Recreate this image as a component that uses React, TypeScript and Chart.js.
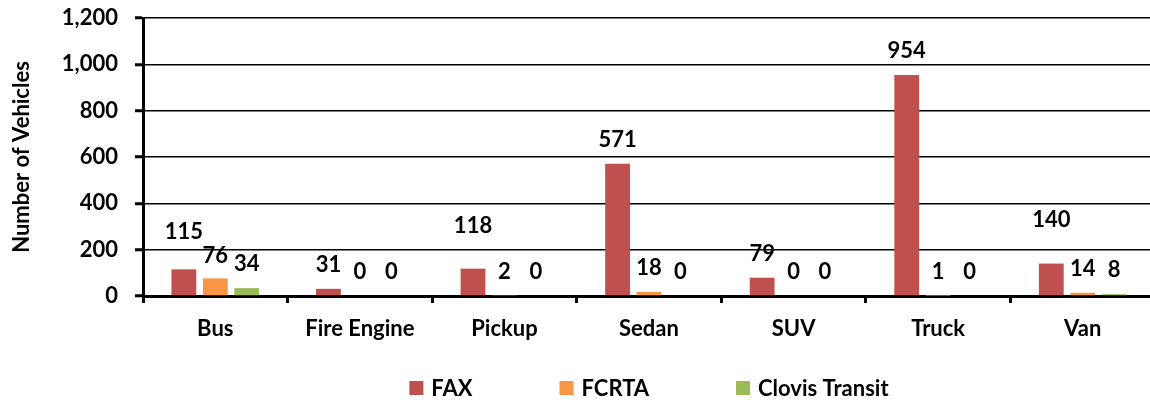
import React, { useEffect, useRef } from "react";
import { Chart, registerables } from "chart.js";

Chart.register(...registerables);

const categories = ["Bus", "Fire Engine", "Pickup", "Sedan", "SUV", "Truck", "Van"];
const faxValues = [115, 31, 118, 571, 79, 954, 140];
const fcrtaValues = [76, 0, 2, 18, 0, 1, 14];
const clovisValues = [34, 0, 0, 0, 0, 0, 8];
const seriesNames = ["FAX", "FCRTA", "Clovis Transit"];
const yTickValues = [0, 200, 400, 600, 800, 1000, 1200];
const yAxisTitle = "Number of Vehicles";

const FONT = "Lato, 'Open Sans', sans-serif";
const FONT_SIZE = 22;
const FONT_WEIGHT = "bold";
const COLORS = ["#C0504D", "#F79646", "#9BBB59"];

// extra lift (px) of manually moved data labels in the original
const LABEL_LIFT = [
  [13, 0, 19, 0, 0, 0, 20],
  [-2, 0, 0, 0, 0, 0, 0],
  [0, 0, 0, 0, 0, 0, 0],
];

const dataLabelPlugin = {
  id: "dataLabels",
  afterDatasetsDraw(chart: any) {
    const ctx = chart.ctx;
    ctx.save();
    ctx.font = `${FONT_WEIGHT} ${FONT_SIZE}px ${FONT}`;
    ctx.fillStyle = "#000";
    ctx.textAlign = "center";
    ctx.textBaseline = "middle";
    chart.data.datasets.forEach((ds: any, di: number) => {
      const meta = chart.getDatasetMeta(di);
      meta.data.forEach((bar: any, i: number) => {
        const v = ds.data[i];
        const lift = LABEL_LIFT[di][i];
        ctx.fillText(String(v), bar.x, bar.y - 24 - lift);
      });
    });
    ctx.restore();
  },
};

const legendPlugin = {
  id: "bottomLegend",
  afterDraw(chart: any) {
    const ctx = chart.ctx;
    ctx.save();
    ctx.font = `${FONT_WEIGHT} ${FONT_SIZE}px ${FONT}`;
    const box = 14;
    const gap = 8;
    const spacing = 87;
    const items = chart.data.datasets.map((ds: any) => ({
      text: ds.label,
      color: ds.backgroundColor,
      w: ctx.measureText(ds.label).width,
    }));
    const total =
      items.reduce((s: number, it: any) => s + box + gap + it.w, 0) +
      spacing * (items.length - 1);
    let x = (chart.chartArea.left + chart.chartArea.right) / 2 - total / 2;
    const cy = 388;
    ctx.textBaseline = "middle";
    ctx.textAlign = "left";
    items.forEach((it: any) => {
      ctx.fillStyle = it.color;
      ctx.fillRect(x, cy - box / 2, box, box);
      ctx.fillStyle = "#000";
      ctx.fillText(it.text, x + box + gap, cy + 1);
      x += box + gap + it.w + spacing;
    });
    ctx.restore();
  },
};

export default function App() {
  const ref = useRef<HTMLCanvasElement | null>(null);

  useEffect(() => {
    if (!ref.current) return;
    Chart.defaults.font.family = FONT;
    Chart.defaults.color = "#000";
    const font = { size: FONT_SIZE, weight: FONT_WEIGHT as any };
    const chart = new Chart(ref.current, {
      type: "bar",
      data: {
        labels: categories,
        datasets: [
          { label: seriesNames[0], data: faxValues, backgroundColor: COLORS[0] },
          { label: seriesNames[1], data: fcrtaValues, backgroundColor: COLORS[1] },
          { label: seriesNames[2], data: clovisValues, backgroundColor: COLORS[2] },
        ],
      },
      options: {
        responsive: false,
        animation: false,
        devicePixelRatio: 1,
        datasets: {
          bar: { barPercentage: 0.79, categoryPercentage: 0.652 },
        },
        layout: { padding: { left: 8, top: 18, right: 5, bottom: 0 } },
        plugins: {
          legend: { display: false },
          tooltip: { enabled: false },
        },
        scales: {
          x: {
            grid: {
              display: true,
              drawOnChartArea: false,
              drawTicks: true,
              tickLength: 7,
              tickWidth: 3,
              tickColor: "#000",
            },
            border: { display: true, width: 3, color: "#000" },
            ticks: {
              font,
              color: "#000",
              padding: 13,
              maxRotation: 0,
            },
            afterFit: (scale: any) => {
              scale.height = 104;
            },
          },
          y: {
            min: 0,
            max: 1200,
            afterBuildTicks: (scale: any) => {
              scale.ticks = yTickValues.map((v) => ({ value: v }));
            },
            grid: {
              color: "#000",
              lineWidth: 1.5,
              tickLength: 8,
              tickWidth: 3,
              tickColor: "#000",
            },
            border: { display: true, width: 3, color: "#000" },
            ticks: {
              font,
              color: "#000",
              padding: 17,
              callback: (v: any) => Number(v).toLocaleString("en-US"),
            },
            title: {
              display: true,
              text: yAxisTitle,
              font,
              color: "#000",
              padding: { top: 1, bottom: 0 },
            },
            afterFit: (scale: any) => {
              scale.width = 135;
              scale.paddingTop = 0;
              scale.paddingBottom = 0;
            },
          },
        },
      },
      plugins: [dataLabelPlugin, legendPlugin],
    });
    return () => chart.destroy();
  }, []);

  return (
    <div
      style={{
        position: "fixed",
        left: 0,
        top: 0,
        width: 1150,
        height: 400,
        overflow: "hidden",
        background: "#fff",
      }}
    >
      <canvas ref={ref} width={1160} height={400} style={{ display: "block" }} />
    </div>
  );
}
